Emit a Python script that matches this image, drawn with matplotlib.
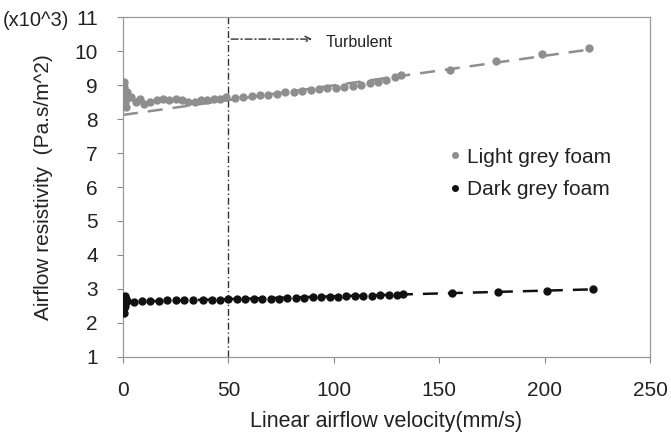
import numpy as np
import matplotlib
matplotlib.use("Agg")
import matplotlib.pyplot as plt

plt.rcParams['font.family'] = ['Liberation Sans', 'DejaVu Sans']

# light grey foam: velocity (mm/s) vs resistivity (x10^3 Pa.s/m^2)
light_v = [0.4, 0.6, 0.8, 1.0, 1.2, 1.5, 2.0, 4, 6, 8, 10, 13, 16, 19, 22, 25, 28,
           31, 34, 37, 40, 43, 46, 49, 53, 57, 61, 65, 69, 73, 77, 81, 85, 89,
           93, 97, 101, 105, 109, 113, 117, 121, 125, 129, 132, 155, 177, 199, 221]
light_r = [9.1, 8.95, 8.7, 8.5, 8.35, 8.6, 8.8, 8.65, 8.5, 8.6, 8.45, 8.5, 8.55,
           8.6, 8.55, 8.6, 8.55, 8.5, 8.5, 8.55, 8.55, 8.6, 8.6, 8.65, 8.62, 8.65,
           8.67, 8.7, 8.72, 8.75, 8.78, 8.8, 8.82, 8.85, 8.88, 8.9, 8.92, 8.95,
           8.97, 9.0, 9.05, 9.1, 9.15, 9.25, 9.3, 9.45, 9.72, 9.92, 10.1]

# dark grey foam
dark_v = [0.3, 0.4, 0.5, 0.6, 0.8, 1.0, 1.2, 2, 5, 9, 13, 17, 21, 25, 29, 33, 38,
          42, 46, 50, 54, 58, 62, 66, 70, 74, 78, 82, 86, 90, 94, 98, 102, 106,
          110, 114, 118, 122, 126, 130, 133, 156, 178, 201, 223]
dark_r = [2.3, 2.45, 2.6, 2.75, 2.8, 2.5, 2.7, 2.65, 2.63, 2.64, 2.65, 2.66, 2.67,
          2.67, 2.67, 2.68, 2.68, 2.69, 2.69, 2.7, 2.7, 2.7, 2.71, 2.71, 2.72,
          2.72, 2.73, 2.74, 2.74, 2.75, 2.76, 2.76, 2.77, 2.78, 2.79, 2.8, 2.8,
          2.81, 2.82, 2.83, 2.84, 2.87, 2.9, 2.95, 2.99]

# linear trend lines (start/end)
light_trend_v = [0, 222]
light_trend_r = [8.12, 10.05]
dark_trend_v = [0, 223]
dark_trend_r = [2.62, 2.99]

turbulent_v = 50

light_col = '#8e8e8e'
dark_col = '#111111'
text_col = '#222222'

fig = plt.figure(figsize=(6.71, 4.36), dpi=100)
ax = fig.add_axes([0.1833, 0.1812, 0.7854, 0.7798])

ax.plot(light_trend_v, light_trend_r, ls=(0, (6, 4)), color=light_col, lw=1.8, zorder=2)
ax.plot(dark_trend_v, dark_trend_r, ls=(0, (6, 4)), color=dark_col, lw=1.8, zorder=2)
ax.plot(light_v, light_r, 'o', color=light_col, ms=5, label='Light grey foam', zorder=3)
ax.plot(dark_v, dark_r, 'o', color=dark_col, ms=5, label='Dark grey foam', zorder=3)

ax.axvline(turbulent_v, color='#333333', lw=1, ls=(0, (5, 2, 1, 2)), zorder=1)
ax.annotate('', xy=(91, 10.35), xytext=(turbulent_v, 10.35),
            arrowprops=dict(arrowstyle='->', color='#333333', lw=1, ls=(0, (5, 2, 1, 2))))
ax.text(96, 10.26, 'Turbulent', fontsize=11.5, color=text_col, va='center', ha='left')

ax.set_xlim(0, 250)
ax.set_ylim(1, 11)
ax.set_xticks([0, 50, 100, 150, 200, 250])
ax.set_yticks(range(1, 12))
ax.tick_params(labelsize=15, colors='#888888', labelcolor=text_col, length=4,
               width=0.8, direction='out')
ax.tick_params(axis='x', pad=13)
ax.tick_params(axis='y', pad=14)
for s in ax.spines.values():
    s.set_color('#999999')
    s.set_linewidth(0.9)

ax.set_xlabel('Linear airflow velocity(mm/s)', fontsize=15.5, color=text_col, labelpad=8)
ax.set_ylabel('Airflow resistivity  (Pa.s/m^2)', fontsize=15, color=text_col)
ax.yaxis.set_label_coords(-0.133, 0.5)
fig.text(3 / 671, 1 - 21 / 436, '(x10^3)', fontsize=14.5, color=text_col,
         va='center', ha='left')

leg = ax.legend(loc='upper left', bbox_to_anchor=(0.575, 0.671), frameon=False,
                fontsize=15, handletextpad=0.05, handlelength=1.0, markerscale=0.8,
                labelspacing=0.64)
for t in leg.get_texts():
    t.set_color(text_col)

fig.savefig('out.png', dpi=100)
